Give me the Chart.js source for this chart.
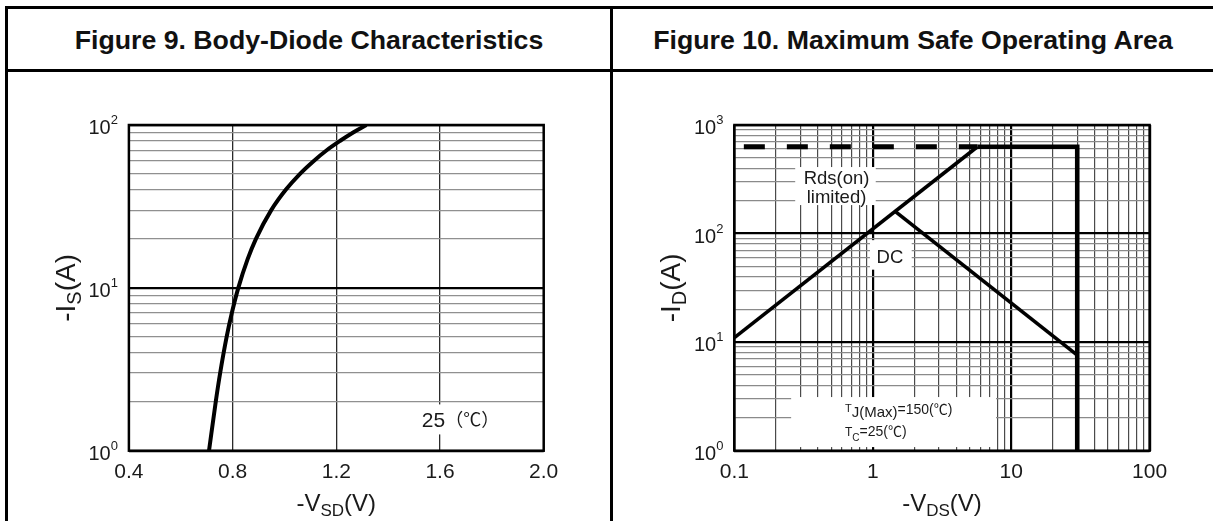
<!DOCTYPE html>
<html>
<head>
<meta charset="utf-8">
<script src="https://cdn.jsdelivr.net/npm/chart.js@4.4.1/dist/chart.umd.min.js"></script>
<style>
  html, body { margin: 0; padding: 0; background: #fff; width: 1213px; height: 521px; overflow: hidden; }
  .rule { position: absolute; background: #000; }
  .head {
    position: absolute; top: 20px; height: 40px; line-height: 40px; text-align: center;
    font-family: "Liberation Sans", Arial, sans-serif; font-weight: bold; font-size: 26.7px; color: #111;
  }
  canvas { position: absolute; left: 0; top: 0; }
</style>
</head>
<body>
<div class="rule" style="left:5px;top:6px;width:1208px;height:3px"></div>
<div class="rule" style="left:5px;top:6px;width:3px;height:515px"></div>
<div class="rule" style="left:5px;top:69px;width:1208px;height:3px"></div>
<div class="rule" style="left:610px;top:6px;width:3px;height:515px"></div>
<div class="head" style="left:8px;width:602px">Figure 9. Body-Diode Characteristics</div>
<div class="head" style="left:613px;width:600px">Figure 10. Maximum Safe Operating Area</div>
<canvas id="diode" width="1213" height="521"></canvas>
<canvas id="soa" width="1213" height="521"></canvas>

<script>
const FONT = '"Liberation Sans", Arial, sans-serif';
const CJK = '"Noto Sans CJK SC", sans-serif';

// Figure 9: body diode, -Vsd (V) vs -Is (A)
const diodeV = [0.709, 0.735, 0.752, 0.777, 0.797, 0.822, 0.858, 0.890, 0.949, 1.005, 1.059, 1.112, 1.163, 1.215, 1.265, 1.316];
const diodeI = [1, 2, 3, 5, 7, 10, 15, 20, 30, 40, 50, 60, 70, 80, 90, 100];
const diodeXTicks = [0.4, 0.8, 1.2, 1.6, 2.0];
const diodeXLabels = ["0.4", "0.8", "1.2", "1.6", "2.0"];
const diodeDecades = [1, 10, 100];
const diodeExps = ["0", "1", "2"];

// Figure 10: safe operating area, -Vds (V) vs -Id (A)
const rdsV = [0.1, 5.7];
const rdsI = [11, 630];
const rdsDashV = [0.117, 5.7];
const rdsDashI = [630, 630];
const limitV = [5.7, 30, 30];
const limitI = [630, 630, 1];
const dcV = [1.45, 30];
const dcI = [160, 7.6];
const soaXDecades = [0.1, 1, 10, 100];
const soaXLabels = ["0.1", "1", "10", "100"];
const soaDecades = [1, 10, 100, 1000];
const soaExps = ["0", "1", "2", "3"];

const pts = (xs, ys) => xs.map((x, i) => ({ x, y: ys[i] }));

// 1..9 x 10^n grid ticks between two decades
function logTicks(lo, hi) {
  const out = [];
  for (let d = lo; d < hi; d *= 10) {
    for (let k = 1; k < 10; k++) out.push({ value: +(k * d).toPrecision(3), major: k === 1 });
  }
  out.push({ value: hi, major: true });
  return out;
}

// draw a row of text pieces: [text, size, dy, font]
function drawRuns(ctx, runs, x, y, align) {
  let w = 0;
  runs.forEach(r => { ctx.font = r[1] + "px " + (r[3] || FONT); w += ctx.measureText(r[0]).width; });
  let cx = align === "center" ? x - w / 2 : align === "right" ? x - w : x;
  ctx.textAlign = "left";
  ctx.textBaseline = "alphabetic";
  runs.forEach(r => {
    ctx.font = r[1] + "px " + (r[3] || FONT);
    ctx.fillText(r[0], cx, y + (r[2] || 0));
    cx += ctx.measureText(r[0]).width;
  });
  return w;
}

function figurePlugin(cfg) {
  return {
    id: "figure",
    beforeDatasetsDraw(chart) {
      chart.ctx.save();
      cfg.notes(chart, chart.ctx);
      chart.ctx.restore();
    },
    afterDatasetsDraw(chart) {
      const { ctx, chartArea: a, scales: { x, y } } = chart;
      ctx.save();
      ctx.strokeStyle = "#000";
      ctx.lineWidth = 2.5;
      ctx.strokeRect(a.left, a.top, a.right - a.left, a.bottom - a.top);

      ctx.fillStyle = "#1a1a1a";
      ctx.font = "21px " + FONT;
      ctx.textAlign = "center";
      cfg.xTicks.forEach((v, i) => ctx.fillText(cfg.xLabels[i], x.getPixelForValue(v), a.bottom + 27));

      cfg.yDecades.forEach((v, i) => {
        const py = y.getPixelForValue(v);
        ctx.textAlign = "right";
        ctx.font = "13px " + FONT;
        const ew = ctx.measureText(cfg.yExps[i]).width;
        ctx.fillText(cfg.yExps[i], a.left - 11, py - 1);
        ctx.font = "20px " + FONT;
        ctx.fillText("10", a.left - 11 - ew, py + 9);
      });

      drawRuns(ctx, cfg.xTitle, (a.left + a.right) / 2, a.bottom + 60, "center");
      ctx.translate(a.left - 64, (a.top + a.bottom) / 2);
      ctx.rotate(-Math.PI / 2);
      drawRuns(ctx, cfg.yTitle, 0, 10, "center");
      ctx.restore();
    }
  };
}

function gridOpts(minorColor, minorWidth) {
  return {
    drawTicks: false,
    color: c => (c.tick && c.tick.major ? "#000" : minorColor),
    lineWidth: c => (c.tick && c.tick.major ? 2.2 : minorWidth)
  };
}

const base = {
  responsive: false,
  animation: false,
  devicePixelRatio: 1,
  events: [],
  plugins: { legend: { display: false }, tooltip: { enabled: false } }
};

// ---------- Figure 9 ----------
new Chart(document.getElementById("diode"), {
  type: "scatter",
  data: {
    datasets: [{
      data: pts(diodeV, diodeI),
      showLine: true,
      borderColor: "#000",
      borderWidth: 4,
      pointRadius: 0,
      cubicInterpolationMode: "monotone"
    }]
  },
  options: {
    ...base,
    layout: { padding: { left: 128.9, right: 669.3, top: 125, bottom: 70.3 } },
    scales: {
      x: {
        type: "linear", min: 0.4, max: 2.0,
        afterBuildTicks: s => { s.ticks = diodeXTicks.map(v => ({ value: v })); },
        ticks: { display: false },
        grid: { drawTicks: false, color: "#2a2a2a", lineWidth: 1.3 },
        border: { display: false }
      },
      y: {
        type: "logarithmic", min: 1, max: 100,
        afterBuildTicks: s => { s.ticks = logTicks(1, 100); },
        ticks: { display: false },
        grid: gridOpts("#909090", 1.3),
        border: { display: false }
      }
    }
  },
  plugins: [figurePlugin({
    xTicks: diodeXTicks, xLabels: diodeXLabels,
    yDecades: diodeDecades, yExps: diodeExps,
    xTitle: [["-V", 24], ["SD", 17, 5], ["(V)", 24]],
    yTitle: [["-I", 28], ["S", 20, 6], ["(A)", 28]],
    notes(chart, ctx) {
      const { x, y } = chart.scales;
      const px = x.getPixelForValue(1.53), py = y.getPixelForValue(1.39);
      const runs = [["25", 21], ["（℃）", 18, -1, CJK]];
      let w = 0;
      runs.forEach(r => { ctx.font = r[1] + "px " + (r[3] || FONT); w += ctx.measureText(r[0]).width; });
      ctx.fillStyle = "#fff";
      ctx.fillRect(px - 5, py - 23, w + 8, 30);
      ctx.fillStyle = "#1a1a1a";
      drawRuns(ctx, runs, px, py, "left");
    }
  })]
});

// ---------- Figure 10 ----------
const solid = (data, width) => ({
  data, showLine: true, borderColor: "#000", borderWidth: width, pointRadius: 0,
  borderCapStyle: "butt", borderJoinStyle: "miter", tension: 0
});

new Chart(document.getElementById("soa"), {
  type: "scatter",
  data: {
    datasets: [
      solid(pts(rdsV, rdsI), 3.6),
      { ...solid(pts(rdsDashV, rdsDashI), 5), borderDash: [21, 22] },
      solid(pts(limitV, limitI), 4.6),
      solid(pts(dcV, dcI), 3.6)
    ]
  },
  options: {
    ...base,
    layout: { padding: { left: 734.4, right: 63.4, top: 125, bottom: 70.3 } },
    scales: {
      x: {
        type: "logarithmic", min: 0.1, max: 100,
        afterBuildTicks: s => { s.ticks = logTicks(0.1, 100); },
        ticks: { display: false },
        grid: gridOpts("#4a4a4a", 1.2),
        border: { display: false }
      },
      y: {
        type: "logarithmic", min: 1, max: 1000,
        afterBuildTicks: s => { s.ticks = logTicks(1, 1000); },
        ticks: { display: false },
        grid: gridOpts("#8a8a8a", 1.3),
        border: { display: false }
      }
    }
  },
  plugins: [figurePlugin({
    xTicks: soaXDecades, xLabels: soaXLabels,
    yDecades: soaDecades, yExps: soaExps,
    xTitle: [["-V", 24], ["DS", 17, 5], ["(V)", 24]],
    yTitle: [["-I", 28], ["D", 20, 6], ["(A)", 28]],
    notes(chart, ctx) {
      const { x, y } = chart.scales;
      const box = (v0, i0, v1, i1) => {
        const l = x.getPixelForValue(v0), r = x.getPixelForValue(v1);
        const t = y.getPixelForValue(i0), b = y.getPixelForValue(i1);
        ctx.fillStyle = "#fff";
        ctx.fillRect(l, t, r - l, b - t);
      };
      // Rds(on) limited
      box(0.275, 410, 1.05, 183);
      ctx.fillStyle = "#1a1a1a";
      ctx.font = "18.5px " + FONT;
      ctx.textAlign = "center";
      let px = x.getPixelForValue(0.547), py = y.getPixelForValue(325);
      ctx.fillText("Rds(on)", px, py + 6);
      ctx.fillText("limited)", px, py + 25);
      // DC
      box(0.954, 87, 1.91, 46.5);
      ctx.fillStyle = "#1a1a1a";
      ctx.fillText("DC", x.getPixelForValue(1.33), y.getPixelForValue(62) + 7);
      // junction / case temperature
      box(0.257, 3.12, 7.77, 1.08);
      ctx.fillStyle = "#1a1a1a";
      px = x.getPixelForValue(0.63);
      py = y.getPixelForValue(2.2);
      drawRuns(ctx, [["T", 11, -2], ["J(Max)", 15, 3], ["=150(", 14], ["℃", 14, 0, CJK], [")", 14]], px, py, "left");
      drawRuns(ctx, [["T", 12], ["C", 10, 5], ["=25(", 14], ["℃", 14, 0, CJK], [")", 14]], px, py + 22, "left");
    }
  })]
});
</script>
</body>
</html>
